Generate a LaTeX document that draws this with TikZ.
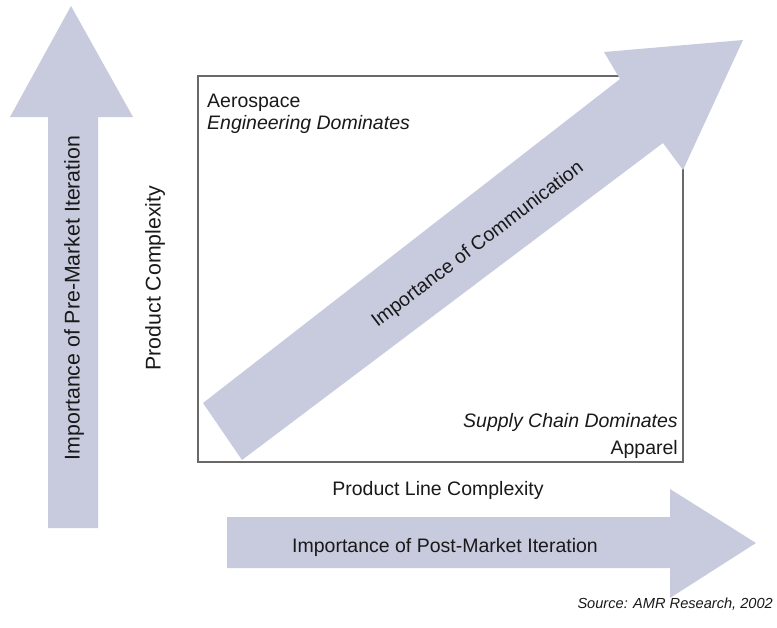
\documentclass[tikz,border=0pt]{standalone}
\usepackage{fontspec}
\setmainfont{Liberation Sans}
\definecolor{arrowfill}{RGB}{200,203,222}
\definecolor{boxline}{RGB}{105,105,105}
\definecolor{txt}{RGB}{25,25,25}
\tikzset{
  bigarrow/.style={fill=arrowfill, draw=none},
  lbl/.style={text=txt, inner sep=0pt, font=\fontsize{19.5}{22}\selectfont},
  ilbl/.style={lbl, font=\fontsize{19.5}{22}\selectfont\itshape},
  vlbl/.style={lbl, rotate=90, font=\fontsize{21.3}{24}\selectfont},
  src/.style={text=txt, inner sep=0pt, font=\fontsize{14.6}{17}\selectfont\itshape}
}
\begin{document}
\begin{tikzpicture}[x=1pt,y=-1pt]
\useasboundingbox (0,0) rectangle (777,627);
% box
\draw[boxline, line width=1.6pt] (198,76) rectangle (683,462);
% vertical arrow
\fill[bigarrow] (48,528) -- (98,528) -- (98,117) -- (133,117) -- (71,6) -- (10,117) -- (48,117) -- cycle;
% horizontal arrow
\fill[bigarrow] (227,517) -- (670,517) -- (670,489) -- (756,543) -- (670,598) -- (670,568) -- (227,568) -- cycle;
% diagonal arrow
\fill[bigarrow] (203,403) -- (620,79) -- (604,52) -- (743,40) -- (683,170) -- (663,143) -- (242,460) -- cycle;
% labels
\node[lbl, anchor=base west] (aero) at (207,107) {Aerospace};
\node[ilbl, anchor=base west] (eng) at (207,129) {Engineering Dominates};
\node[ilbl, anchor=base east] (supply) at (678,427) {Supply Chain Dominates};
\node[lbl, anchor=base east] (apparel) at (678,454) {Apparel};
\node[vlbl] (pc) at (155,278) {Product Complexity};
\node[lbl] (plc) at (438,490) {Product Line Complexity};
\node[lbl] (post) at (445,547) {Importance of Post-Market Iteration};
\node[vlbl] (pre) at (74,298) {Importance of Pre-Market Iteration};
\node[lbl, rotate=37.3] (comm) at (478,245) {Importance of Communication};
\node[src, anchor=base east] (source) at (773,608) {Source: AMR Research, 2002};
\end{tikzpicture}
\end{document}
